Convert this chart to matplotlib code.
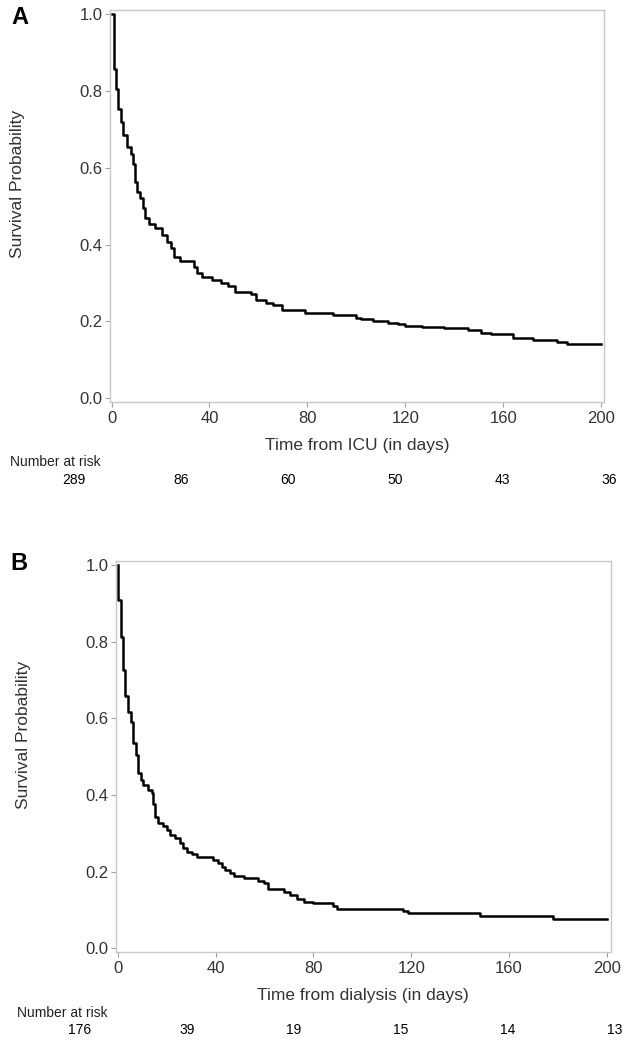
import matplotlib
matplotlib.use("Agg")
import matplotlib.pyplot as plt

plt.rcParams['font.family'] = ['Liberation Sans', 'DejaVu Sans']

# Kaplan-Meier steps
icu_days = [0, 0.8, 1.0, 1.8, 2.6, 3.7, 4.5, 6.3, 7.8, 8.6, 9.4, 10.5, 11.6, 12.7,
            13.8, 15.1, 17.8, 20.6, 22.6, 24.4, 25.3, 28.1, 33.5, 34.8, 36.8, 41,
            44.8, 47.5, 50.5, 57, 59, 63, 66, 69.6, 79, 90.6, 99.9, 102, 106.8, 113,
            117, 119.7, 127, 136, 145.7, 151, 155, 164, 172, 182, 186, 200]
icu_surv = [1.0, 0.919, 0.858, 0.806, 0.754, 0.72, 0.685, 0.654, 0.635, 0.609, 0.563,
            0.537, 0.52, 0.495, 0.468, 0.453, 0.443, 0.424, 0.407, 0.39, 0.368, 0.357,
            0.342, 0.325, 0.316, 0.307, 0.299, 0.292, 0.277, 0.271, 0.255, 0.247,
            0.242, 0.229, 0.222, 0.217, 0.208, 0.206, 0.201, 0.197, 0.193, 0.188,
            0.186, 0.182, 0.178, 0.171, 0.167, 0.156, 0.151, 0.147, 0.141, 0.141]

dial_days = [0, 0.2, 1.1, 2.2, 3.0, 4.1, 5.2, 6.3, 7.4, 8.4, 9.3, 10.4, 12.5, 13.9,
             14.5, 15.2, 16.2, 18.6, 20, 21.3, 23.4, 25.4, 26.8, 28.2, 30.2, 32.3,
             39.1, 41.1, 42.5, 43.8, 45.9, 47.3, 51.4, 57.5, 59.6, 61.6, 67.8, 70.5,
             73.2, 76, 80, 88, 89.7, 116.5, 118.6, 148, 178, 200]
dial_surv = [1.0, 0.909, 0.813, 0.726, 0.658, 0.617, 0.59, 0.536, 0.503, 0.457, 0.439,
             0.426, 0.413, 0.404, 0.376, 0.343, 0.326, 0.319, 0.309, 0.296, 0.287,
             0.274, 0.261, 0.252, 0.246, 0.237, 0.230, 0.222, 0.213, 0.204, 0.196,
             0.188, 0.183, 0.176, 0.170, 0.154, 0.148, 0.139, 0.128, 0.122, 0.117,
             0.110, 0.1025, 0.098, 0.091, 0.084, 0.077, 0.077]

risk_times = [0, 40, 80, 120, 160, 200]
icu_risk = [289, 86, 60, 50, 43, 36]
dial_risk = [176, 39, 19, 15, 14, 13]

W, H = 630, 1050
fig = plt.figure(figsize=(W / 100, H / 100), dpi=100)


def px_axes(left, top, right, bottom):
    return fig.add_axes([left / W, 1 - bottom / H, (right - left) / W, (bottom - top) / H])


def km_panel(box, xlim, days, surv, xlabel, letter, letter_xy):
    ax = px_axes(*box)
    ax.step(days, surv, where='post', color='black', lw=1.8)
    ax.set_xlim(*xlim)
    ax.set_ylim(-0.0089, 1.0104)
    ax.set_xticks([0, 40, 80, 120, 160, 200])
    ax.set_yticks([0.0, 0.2, 0.4, 0.6, 0.8, 1.0])
    ax.set_yticklabels(['0.0', '0.2', '0.4', '0.6', '0.8', '1.0'])
    for s in ax.spines.values():
        s.set_color('#c8c8c8')
        s.set_linewidth(1.0)
    ax.tick_params(axis='both', direction='out', length=3.5, width=0.8,
                   color='#a0a0a0', labelcolor='#333333', labelsize=12)
    ax.tick_params(axis='x', pad=3)
    ax.tick_params(axis='y', pad=2)
    ax.set_ylabel('Survival Probability', fontsize=12.5, color='#333333')
    ax.yaxis.set_label_coords(-0.172, 0.556)
    ax.set_xlabel(xlabel, fontsize=12.5, color='#333333', labelpad=9)
    fig.text(letter_xy[0] / W, 1 - letter_xy[1] / H, letter, fontsize=17,
             fontweight='bold', ha='center', va='center')
    return ax


def risk_row(x0, x1, y, counts, label_x, label_y):
    rax = px_axes(x0, y - 8, x1, y + 8)
    rax.set_xlim(0, 200)
    rax.set_ylim(0, 1)
    rax.axis('off')
    for t, n in zip(risk_times, counts):
        rax.text(t, 0.5, str(n), ha='center', va='center', fontsize=10,
                 color='black')
    fig.text(label_x / W, 1 - label_y / H, 'Number at risk', fontsize=10,
             color='#222222', ha='left', va='center')


km_panel((110, 10, 604, 401.7), (-0.65, 201.2), icu_days, icu_surv,
         'Time from ICU (in days)', 'A', (20, 18))
risk_row(74, 609, 480, icu_risk, 10, 462)

km_panel((116, 561, 610.7, 951.7), (-0.78, 201.6), dial_days, dial_surv,
         'Time from dialysis (in days)', 'B', (19, 564))
risk_row(80, 615, 1030, dial_risk, 17, 1013)

fig.savefig('out.png', dpi=100)
